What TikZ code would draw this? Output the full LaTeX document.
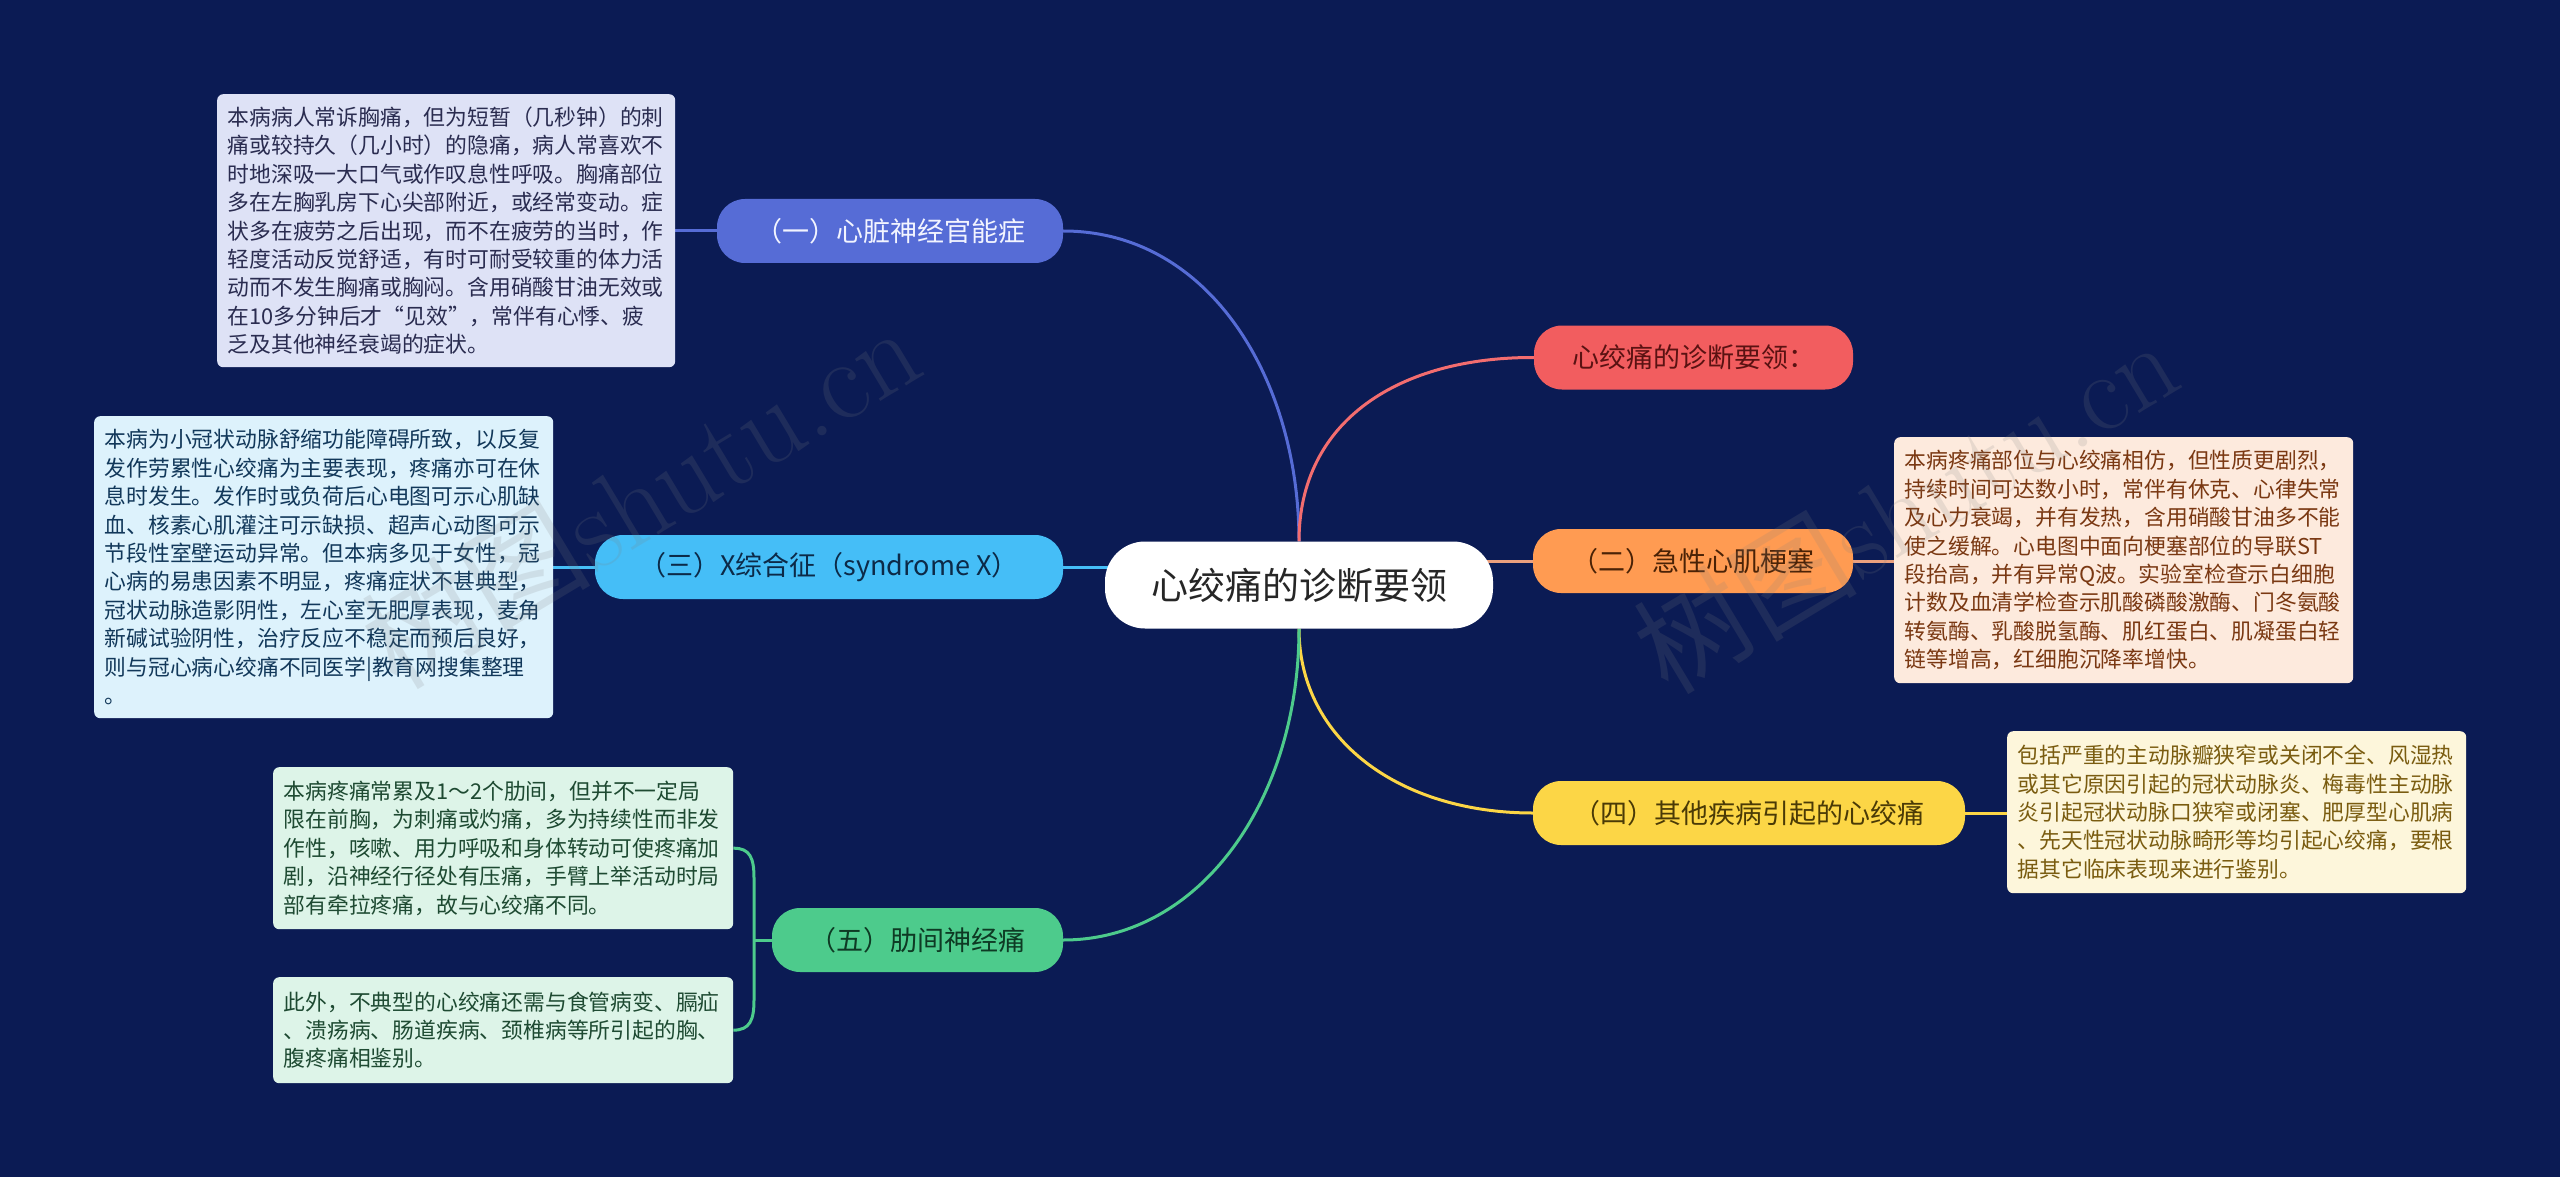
\documentclass[tikz,border=0pt]{standalone}
\usepackage{fontspec}
\newfontfamily\cjk{Noto Sans CJK SC}
\definecolor{bgc}{HTML}{0B1B54}
\definecolor{cA}{HTML}{566CD6}
\definecolor{cB}{HTML}{F25D5F}
\definecolor{cC}{HTML}{FF9B52}
\definecolor{cCl}{HTML}{EBA07E}
\definecolor{cD}{HTML}{45BEF7}
\definecolor{cE}{HTML}{FCD646}
\definecolor{cF}{HTML}{4DCB8C}
\definecolor{tA}{HTML}{F2F4FF}
\definecolor{tB}{HTML}{5A1212}
\definecolor{tC}{HTML}{4A2206}
\definecolor{tD}{HTML}{0C2A48}
\definecolor{tE}{HTML}{4A3A06}
\definecolor{tF}{HTML}{0E3A24}
\definecolor{fA}{HTML}{DEE2F6}
\definecolor{fB}{HTML}{DDF2FC}
\definecolor{fC}{HTML}{FDEADD}
\definecolor{fD}{HTML}{FDF6DB}
\definecolor{fF}{HTML}{DDF4E8}
\definecolor{lA}{HTML}{2A2C50}
\definecolor{lB}{HTML}{12385A}
\definecolor{lC}{HTML}{7A3812}
\definecolor{lD}{HTML}{7A5C10}
\definecolor{lF}{HTML}{1E4A32}
\pgfdeclarelayer{bglayer}
\pgfsetlayers{bglayer,main}
\begin{document}
\begin{tikzpicture}[x=1pt,y=-1pt,
  branch/.style={rounded corners=28pt, minimum height=64pt, inner sep=0pt,
    font=\cjk\fontsize{27}{27}\selectfont, align=center},
  leaf/.style={rounded corners=6pt, anchor=north west, inner xsep=10.5pt,
    inner ysep=0pt, align=left, font=\cjk\fontsize{21.8}{28.4}\selectfont},
  conn/.style={line width=3pt},
  wmark/.style={rotate=31, text=gray, opacity=0.17}]
\useasboundingbox (0,0) rectangle (2560,1177);

% central node
\node[fill=white, rounded corners=40pt, minimum width=388pt, minimum height=87pt,
  inner sep=0pt, font=\cjk\fontsize{37}{37}\selectfont, text=black!85] (c) at (1299,585) {心绞痛的诊断要领};

% branch nodes
\node[branch, fill=cA, text=tA, minimum width=346pt] (n1) at (890,231) {（一）心脏神经官能症};
\node[branch, fill=cB, text=tB, minimum width=319pt] (n2) at (1693.5,357.5) {心绞痛的诊断要领：};
\node[branch, fill=cC, text=tC, minimum width=320pt] (n3) at (1693,561) {（二）急性心肌梗塞};
\node[branch, fill=cD, text=tD, minimum width=468pt] (n4) at (829,567) {（三）X综合征（syndrome X）};
\node[branch, fill=cE, text=tE, minimum width=432pt] (n5) at (1749,813) {（四）其他疾病引起的心绞痛};
\node[branch, fill=cF, text=tF, minimum width=291pt] (n6) at (917.5,940) {（五）肋间神经痛};

% leaf boxes
\node[leaf, fill=fA, text=lA, text width=437pt, minimum height=273pt] (b1) at (217,94) {%
本病病人常诉胸痛，但为短暂（几秒钟）的刺\\
痛或较持久（几小时）的隐痛，病人常喜欢不\\
时地深吸一大口气或作叹息性呼吸。胸痛部位\\
多在左胸乳房下心尖部附近，或经常变动。症\\
状多在疲劳之后出现，而不在疲劳的当时，作\\
轻度活动反觉舒适，有时可耐受较重的体力活\\
动而不发生胸痛或胸闷。含用硝酸甘油无效或\\
在10多分钟后才“见效”，常伴有心悸、疲\\
乏及其他神经衰竭的症状。};

\node[leaf, fill=fB, text=lB, text width=438pt, minimum height=302pt] (b3) at (94,416) {%
本病为小冠状动脉舒缩功能障碍所致，以反复\\
发作劳累性心绞痛为主要表现，疼痛亦可在休\\
息时发生。发作时或负荷后心电图可示心肌缺\\
血、核素心肌灌注可示缺损、超声心动图可示\\
节段性室壁运动异常。但本病多见于女性，冠\\
心病的易患因素不明显，疼痛症状不甚典型，\\
冠状动脉造影阴性，左心室无肥厚表现，麦角\\
新碱试验阴性，治疗反应不稳定而预后良好，\\
则与冠心病心绞痛不同医学|教育网搜集整理\\
。};

\node[leaf, fill=fC, text=lC, text width=438pt, minimum height=246pt] (b2) at (1894,437) {%
本病疼痛部位与心绞痛相仿，但性质更剧烈，\\
持续时间可达数小时，常伴有休克、心律失常\\
及心力衰竭，并有发热，含用硝酸甘油多不能\\
使之缓解。心电图中面向梗塞部位的导联ST\\
段抬高，并有异常Q波。实验室检查示白细胞\\
计数及血清学检查示肌酸磷酸激酶、门冬氨酸\\
转氨酶、乳酸脱氢酶、肌红蛋白、肌凝蛋白轻\\
链等增高，红细胞沉降率增快。};

\node[leaf, fill=fD, text=lD, text width=438pt, minimum height=162pt] (b4) at (2007,731) {%
包括严重的主动脉瓣狭窄或关闭不全、风湿热\\
或其它原因引起的冠状动脉炎、梅毒性主动脉\\
炎引起冠状动脉口狭窄或闭塞、肥厚型心肌病\\
、先天性冠状动脉畸形等均引起心绞痛，要根\\
据其它临床表现来进行鉴别。};

\node[leaf, fill=fF, text=lF, text width=439pt, minimum height=162pt] (b5) at (273,767) {%
本病疼痛常累及1～2个肋间，但并不一定局\\
限在前胸，为刺痛或灼痛，多为持续性而非发\\
作性，咳嗽、用力呼吸和身体转动可使疼痛加\\
剧，沿神经行径处有压痛，手臂上举活动时局\\
部有牵拉疼痛，故与心绞痛不同。};

\node[leaf, fill=fF, text=lF, text width=439pt, minimum height=106pt] (b6) at (273,977) {%
此外，不典型的心绞痛还需与食管病变、膈疝\\
、溃疡病、肠道疾病、颈椎病等所引起的胸、\\
腹疼痛相鉴别。};

\coordinate (g) at (754,940);

% watermarks
\node[wmark] (w1) at (640,495) {\cjk\fontsize{115}{115}\selectfont 树图\rmfamily shutu.cn};
\node[wmark] (w2) at (1905,505) {\cjk\fontsize{112}{112}\selectfont 树图\rmfamily shutu.cn};

\begin{pgfonlayer}{bglayer}
\fill[bgc] (0,0) rectangle (2560,1177);
\draw[conn, cA] (n1.east) .. controls (1210,231) and (1299,380) .. (c.north);
\draw[conn, cB!90!white] (c.north) .. controls (1299,420) and (1400,357) .. (n2.west);
\draw[conn, cCl] (c.center |- n3.west) -- (n3.west);
\draw[conn, cD] (n4.east) -- (c.center |- n4.east);
\draw[conn, cE] (c.south) .. controls (1299,740) and (1400,813) .. (n5.west);
\draw[conn, cF] (c.south) .. controls (1299,800) and (1200,940) .. (n6.east);
% leaf links
\draw[conn, cA] (n1.west) -- (n1.west -| b1.east);
\draw[conn, cD] (n4.west) -- (n4.west -| b3.east);
\draw[conn, cCl] (n3.east) -- (n3.east -| b2.west);
\draw[conn, cE] (n5.east) -- (n5.east -| b4.west);
\draw[conn, cF] (n6.west) -- (g);
\draw[conn, cF] (b5.east) .. controls (750,848) and (754,858) .. (754,878) -- (754,1000)
  .. controls (754,1020) and (750,1030) .. (b6.east);
\end{pgfonlayer}
\end{tikzpicture}
\end{document}
